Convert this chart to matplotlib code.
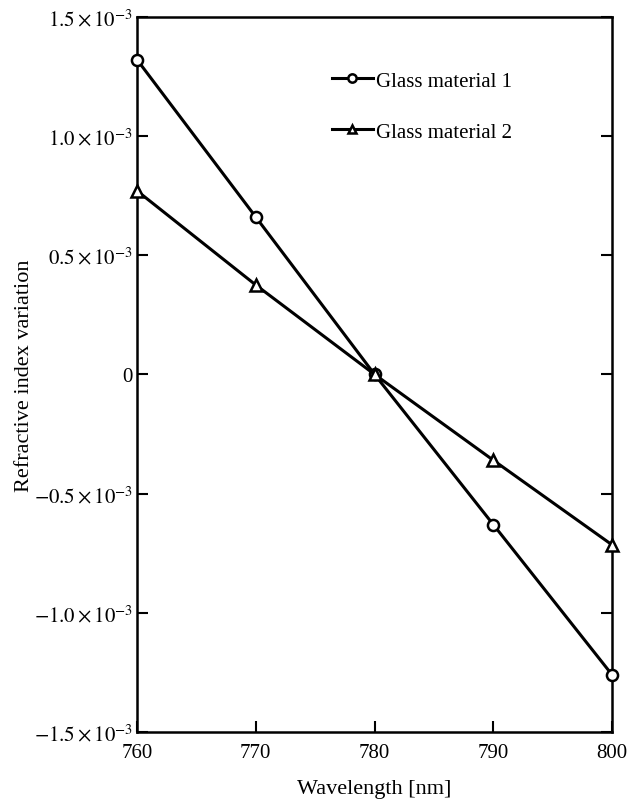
import numpy as np
import matplotlib.pyplot as plt
from matplotlib.ticker import FixedLocator, FixedFormatter

plt.rcParams['font.family'] = ['Liberation Serif', 'DejaVu Serif']
plt.rcParams['mathtext.fontset'] = 'stix'

wavelength = [760, 770, 780, 790, 800]
glass1 = [1.32e-3, 0.66e-3, 0.0, -0.63e-3, -1.26e-3]
glass2 = [0.77e-3, 0.375e-3, 0.0, -0.36e-3, -0.715e-3]

yticks = [-1.5e-3, -1.0e-3, -0.5e-3, 0, 0.5e-3, 1.0e-3, 1.5e-3]
ylabels = [r'$-1.5\times10^{-3}$', r'$-1.0\times10^{-3}$', r'$-0.5\times10^{-3}$', '0',
           r'$0.5\times10^{-3}$', r'$1.0\times10^{-3}$', r'$1.5\times10^{-3}$']

fig = plt.figure(figsize=(6.37, 8.03), dpi=100)
ax = fig.add_axes([0.215, 0.087, 0.746, 0.891])

ax.plot(wavelength, glass1, '-o', color='black', lw=2.2, ms=8, mfc='white', mew=1.8,
        label='Glass material 1', clip_on=False, zorder=3)
ax.plot(wavelength, glass2, '-^', color='black', lw=2.2, ms=8, mfc='white', mew=1.8,
        label='Glass material 2', clip_on=False, zorder=3)

ax.set_xlim(760, 800)
ax.set_ylim(-1.5e-3, 1.5e-3)
ax.set_xticks(wavelength)
ax.yaxis.set_major_locator(FixedLocator(yticks))
ax.yaxis.set_major_formatter(FixedFormatter(ylabels))
ax.tick_params(axis='both', direction='in', length=8, width=1.5, labelsize=15)
ax.tick_params(axis='x', pad=8)
ax.tick_params(axis='y', right=True, pad=3)
for s in ax.spines.values():
    s.set_linewidth(1.8)

ax.set_xlabel('Wavelength [nm]', fontsize=16, labelpad=12)
ax.set_ylabel('Refractive index variation', fontsize=16, labelpad=0)

ax.legend(loc='upper left', bbox_to_anchor=(0.37, 0.95), frameon=False, fontsize=15,
          handlelength=2.0, handletextpad=0.15, labelspacing=1.5, markerscale=0.75)

fig.savefig('out.png', dpi=100)
